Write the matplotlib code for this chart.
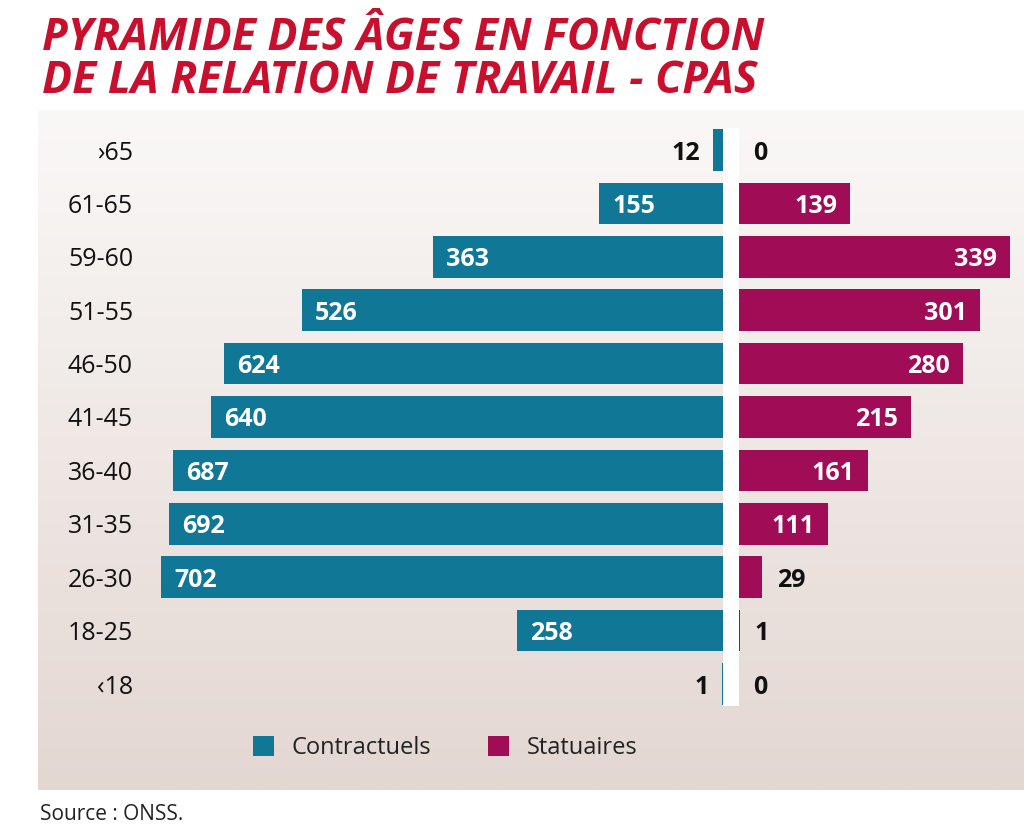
import numpy as np
import matplotlib
matplotlib.use("Agg")
import matplotlib.pyplot as plt
from matplotlib.patches import Patch, Rectangle

# -------------------------------------------------------------
# Data
# -------------------------------------------------------------
age_groups = ["›65", "61-65", "59-60", "51-55", "46-50", "41-45",
              "36-40", "31-35", "26-30", "18-25", "‹18"]
contractuels = [12, 155, 363, 526, 624, 640, 687, 692, 702, 258, 1]
statuaires = [0, 139, 339, 301, 280, 215, 161, 111, 29, 1, 0]

TEAL = "#107896"
MAGENTA = "#a00c55"
RED = "#c8102e"
FONT = ["Open Sans", "DejaVu Sans"]
plt.rcParams["font.family"] = FONT

# -------------------------------------------------------------
# Figure / layout (pixels -> fractions)
# -------------------------------------------------------------
W, H = 1024, 826
fig = plt.figure(figsize=(W / 100, H / 100), dpi=100)
fig.patch.set_facecolor("white")

panel_top, panel_bottom, panel_left = 110, 790, 38
rect = [panel_left / W, 1 - panel_bottom / H, (W - panel_left) / W, (panel_bottom - panel_top) / H]

# gradient background panel
bg = fig.add_axes(rect, zorder=0)
top_col = np.array([250, 248, 247]) / 255
bot_col = np.array([227, 215, 210]) / 255
t = np.linspace(0, 1, 256)[:, None, None]
grad = top_col * (1 - t) + bot_col * t
bg.imshow(grad, aspect="auto", extent=[0, 1, 0, 1])
bg.axis("off")

ax = fig.add_axes(rect, zorder=1)
ax.patch.set_alpha(0)
scale = 0.8            # pixels per unit
gap = 16 / scale       # white strip between both sides
zero_px = 723
ax.set_xlim((panel_left - zero_px) / scale, (W - zero_px) / scale)
row_px = 53.4
ax.set_ylim((panel_bottom - 150) / row_px, -(150 - panel_top) / row_px)
ax.axis("off")

y = np.arange(len(age_groups))
bh = 0.78
ax.barh(y, [-v for v in contractuels], height=bh, color=TEAL, zorder=2)
ax.barh(y, statuaires, left=gap, height=bh, color=MAGENTA, zorder=2)

# white centre strip
ax.add_patch(Rectangle((0, -bh / 2 - 0.02), gap, len(y) - 1 + bh + 0.04,
                       facecolor="white", edgecolor="none", zorder=1))

pad = 13 / scale
vtxt = dict(va="center_baseline", fontsize=18, fontweight="bold", zorder=3)
for i, (c, s) in enumerate(zip(contractuels, statuaires)):
    if c >= 50:
        ax.text(-c + pad, i, str(c), ha="left", color="white", **vtxt)
    else:
        ax.text(-c - pad, i, str(c), ha="right", color="#111111", **vtxt)
    if s >= 50:
        ax.text(gap + s - pad, i, str(s), ha="right", color="white", **vtxt)
    else:
        ax.text(gap + s + pad + 2, i, str(s), ha="left", color="#111111", **vtxt)
    ax.text((133 - zero_px) / scale, i, age_groups[i], ha="right", va="center_baseline",
            color="#111111", fontsize=18)

# legend
handles = [Patch(facecolor=TEAL, label="Contractuels"),
           Patch(facecolor=MAGENTA, label="Statuaires")]
fig.legend(handles=handles, loc="center", bbox_to_anchor=(445 / W, 1 - 748 / H),
           ncol=2, frameon=False, fontsize=17, handlelength=0.9, handleheight=0.9,
           handletextpad=0.75, columnspacing=2.4, labelcolor="#222222")

# title and source
fig.text(42 / W, 1 - 50 / H, "PYRAMIDE DES ÂGES EN FONCTION", color=RED,
         fontsize=32, fontweight="bold", fontstyle="italic", va="baseline")
fig.text(42 / W, 1 - 93 / H, "DE LA RELATION DE TRAVAIL - CPAS", color=RED,
         fontsize=32, fontweight="bold", fontstyle="italic", va="baseline")
fig.text(40 / W, 1 - 820 / H, "Source : ONSS.", color="#222222", fontsize=15,
         va="baseline")

fig.savefig("out.png", dpi=100)
